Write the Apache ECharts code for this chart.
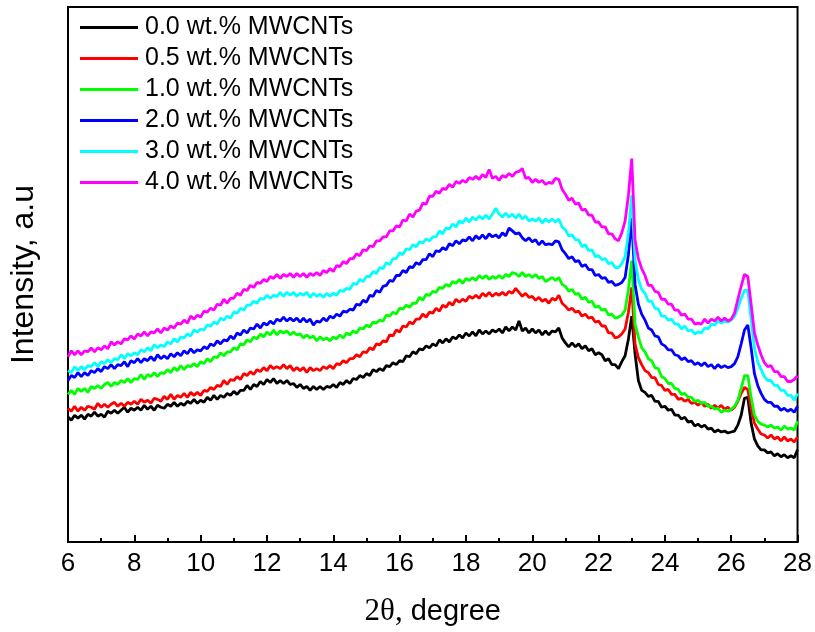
<!DOCTYPE html>
<html>
<head>
<meta charset="utf-8">
<title>XRD patterns of MWCNT composites</title>
<script src="https://cdn.jsdelivr.net/npm/echarts/dist/echarts.min.js"></script>
<style>
  html, body { margin: 0; padding: 0; background: #fff; }
  #chart { width: 815px; height: 632px; }
</style>
</head>
<body>
<div id="chart"></div>
<script>
// Diffraction scans, 2θ from 6.0° to 28.0° in 0.1° steps (arbitrary intensity units)
const scanStart = 6.0;
const scanStep = 0.1;

const seriesNames = [
  '0.0 wt.% MWCNTs',
  '0.5 wt.% MWCNTs',
  '1.0 wt.% MWCNTs',
  '2.0 wt.% MWCNTs',
  '3.0 wt.% MWCNTs',
  '4.0 wt.% MWCNTs'
];

const seriesColors = ['#000000', '#ff0000', '#00ff00', '#0000ff', '#00ffff', '#ff00ff'];

const xTicks = [6, 8, 10, 12, 14, 16, 18, 20, 22, 24, 26, 28];

const mwcnt00 = [
  126,123,128,125,128,124,129,127,131,127,
  129,126,132,130,133,130,133,136,131,135,
  133,136,133,138,134,137,133,138,136,135,
  139,137,141,137,140,138,142,140,144,140,
  143,141,146,143,148,144,148,146,150,148,
  152,149,153,153,158,154,159,157,162,159,
  164,161,165,160,163,160,163,159,160,156,
  159,155,157,153,157,154,157,154,157,156,
  159,156,161,159,163,160,165,164,168,166,
  170,168,174,172,175,173,178,177,181,179,
  183,182,188,187,192,190,195,194,198,196,
  200,198,204,201,205,202,207,205,209,206,
  211,208,212,208,214,210,213,210,214,212,
  215,211,217,213,217,214,223,213,216,211,
  215,211,214,209,213,209,213,212,216,206,
  201,197,201,197,200,195,198,193,195,189,
  191,189,183,185,179,179,175,182,188,205,
  228,190,163,153,151,147,148,142,142,136,
  137,133,134,128,128,124,126,121,122,117,
  119,116,118,114,115,111,113,111,112,110,
  111,112,118,128,145,146,120,104,97,93,
  93,90,91,87,89,86,88,85,87,85,
  93
];

const mwcnt05 = [
  135,132,137,132,136,133,137,136,134,140,
  136,139,136,139,141,137,140,137,141,139,
  142,139,144,141,143,140,145,144,142,147,
  144,149,144,148,146,150,146,151,148,151,
  148,153,152,156,154,158,157,163,159,164,
  163,167,164,170,168,172,169,174,172,176,
  173,178,175,177,175,179,175,178,173,176,
  173,176,171,176,173,175,173,177,175,178,
  175,180,179,183,181,185,185,189,187,192,
  191,196,194,200,199,203,202,209,208,214,
  212,218,217,222,220,225,225,230,227,232,
  231,236,233,239,237,242,239,245,242,245,
  243,248,246,249,246,251,248,252,248,251,
  249,252,249,253,251,256,252,248,251,247,
  248,244,247,243,245,241,246,244,249,241,
  238,234,236,232,233,228,230,226,227,222,
  223,218,218,211,211,206,207,210,215,232,
  257,200,186,179,173,171,166,166,159,158,
  153,154,149,149,144,145,142,144,140,141,
  138,141,137,139,135,138,135,138,134,136,
  133,136,142,150,156,154,135,120,114,109,
  108,105,108,104,106,102,106,102,104,101,
  106
];

const mwcnt10 = [
  149,153,149,155,152,155,151,157,155,158,
  155,159,161,157,161,159,163,161,165,161,
  165,164,169,164,169,167,171,167,171,170,
  174,171,176,173,178,174,178,177,180,177,
  182,180,185,182,187,186,191,188,192,192,
  196,194,200,199,204,202,207,205,210,207,
  212,209,214,209,213,211,213,209,212,209,
  210,206,209,206,208,203,207,204,206,203,
  207,205,209,206,211,209,213,211,216,215,
  219,217,222,221,224,223,229,228,232,230,
  236,235,239,237,241,241,247,244,250,249,
  253,252,257,256,260,258,263,261,265,261,
  266,264,267,264,269,266,269,265,268,266,
  269,266,270,268,272,271,268,272,268,270,
  267,270,266,268,263,265,267,264,267,260,
  258,253,255,250,251,245,247,242,243,237,
  238,234,235,229,230,226,227,229,234,255,
  284,220,207,196,192,185,183,176,175,167,
  165,160,160,155,154,149,150,146,146,142,
  143,140,141,137,137,134,135,131,133,132,
  134,137,143,155,168,168,146,128,122,119,
  118,116,118,115,116,113,117,114,115,113,
  122
];

const mwcnt20 = [
  163,168,166,171,167,171,168,173,171,175,
  172,177,175,179,175,179,178,182,177,183,
  181,185,181,185,183,187,183,189,185,188,
  185,190,187,191,188,193,190,195,191,194,
  193,197,195,200,198,203,200,204,203,208,
  205,211,209,214,211,216,215,220,216,221,
  219,223,220,225,223,227,223,226,223,226,
  222,226,222,225,219,223,222,226,223,228,
  226,230,228,233,232,235,234,240,239,244,
  242,249,248,254,252,258,259,264,263,269,
  269,274,272,278,277,282,280,285,285,291,
  288,294,293,297,295,301,299,304,301,305,
  304,308,304,309,306,310,306,311,308,310,
  307,312,309,317,314,311,312,307,304,307,
  303,305,300,304,300,301,300,304,303,295,
  291,286,288,283,284,278,280,275,275,269,
  270,266,267,262,263,259,260,262,267,290,
  327,260,240,230,224,216,214,208,207,200,
  198,194,194,189,188,184,186,182,183,179,
  181,178,181,177,179,175,179,176,178,176,
  177,180,187,200,214,219,196,170,158,150,
  144,141,141,137,137,133,135,132,134,131,
  137
];

const mwcnt30 = [
  173,171,177,173,177,174,178,177,181,177,
  182,180,184,181,185,184,189,185,190,188,
  191,189,194,192,196,193,199,196,199,197,
  202,200,205,202,207,206,210,208,214,212,
  215,214,219,218,222,220,226,224,228,226,
  232,231,236,234,239,239,243,241,246,245,
  249,246,249,248,252,248,252,249,252,248,
  251,249,252,247,251,248,250,247,251,248,
  251,249,254,253,256,255,261,260,265,263,
  268,268,273,271,277,276,282,280,286,286,
  292,290,296,295,300,298,303,302,306,304,
  308,308,314,311,317,316,321,318,324,322,
  327,323,328,325,329,326,330,326,331,337,
  331,328,332,328,331,327,331,326,329,324,
  326,324,327,322,326,323,326,323,326,318,
  315,309,310,305,305,298,300,294,295,288,
  289,285,286,281,282,277,277,281,288,312,
  350,285,265,255,251,243,243,236,235,228,
  228,224,225,220,220,215,218,213,214,210,
  212,211,216,215,220,219,223,221,223,222,
  224,228,236,246,254,254,225,196,182,174,
  167,163,163,158,158,153,153,148,148,143,
  150
];

const mwcnt40 = [
  187,193,189,193,189,193,192,196,192,196,
  194,198,195,202,199,202,200,205,204,208,
  205,210,208,212,208,212,211,215,211,216,
  214,218,216,221,220,224,221,228,225,229,
  227,233,232,236,234,240,239,245,241,246,
  246,251,249,255,254,259,257,262,261,265,
  263,268,266,270,266,270,268,271,267,271,
  268,271,267,271,269,272,269,274,272,276,
  273,279,278,283,281,286,286,291,289,295,
  294,299,298,304,304,308,308,314,314,319,
  318,325,324,331,328,334,335,342,341,349,
  349,354,352,357,356,361,358,364,362,365,
  363,368,366,369,366,371,368,376,367,369,
  365,370,368,372,369,373,374,377,367,368,
  363,366,363,365,361,363,362,367,366,356,
  351,345,347,341,342,335,336,330,330,323,
  323,318,318,311,311,306,304,312,324,350,
  387,305,286,276,269,259,259,253,252,245,
  245,240,240,234,234,229,230,225,225,220,
  221,220,225,221,225,223,227,223,226,223,
  225,231,245,258,270,268,240,211,199,189,
  181,177,178,172,172,167,167,162,162,164,
  168
];

const scans = [mwcnt00, mwcnt05, mwcnt10, mwcnt20, mwcnt30, mwcnt40];

// pair each intensity with its 2θ position on the scan grid
function toPoints(values) {
  return values.map((v, i) => [(scanStart * 10 + i * scanStep * 10) / 10, v]);
}

const sansFont = '"Liberation Sans", Arial, sans-serif';
const serifFont = '"Liberation Serif", "Times New Roman", serif';

const chart = echarts.init(document.getElementById('chart'), null, { renderer: 'canvas' });

const option = {
  animation: false,
  backgroundColor: '#ffffff',
  grid: {
    left: 67, right: 16, top: 7, bottom: 85,
    show: true, borderColor: '#000', borderWidth: 2, backgroundColor: 'transparent'
  },
  legend: {
    orient: 'vertical',
    left: 80, top: 15,
    padding: 0,
    itemGap: 6,
    itemWidth: 58,
    itemHeight: 3,
    icon: 'rect',
    data: seriesNames,
    textStyle: { fontFamily: sansFont, fontSize: 25, color: '#000', padding: [0, 0, 0, 2] }
  },
  xAxis: {
    type: 'value',
    min: xTicks[0], max: xTicks[xTicks.length - 1], interval: 2,
    name: '{s|2θ,} degree',
    nameLocation: 'middle',
    nameGap: 54,
    nameTextStyle: {
      fontFamily: sansFont, fontSize: 29, color: '#000',
      rich: { s: { fontFamily: serifFont, fontSize: 31, color: '#000' } }
    },
    axisLine: { show: true, onZero: false, lineStyle: { color: '#000', width: 2 } },
    axisTick: { show: true, inside: true, length: 7, lineStyle: { color: '#000', width: 2 } },
    minorTick: { show: true, splitNumber: 2, length: 4, lineStyle: { color: '#000', width: 2 } },
    axisLabel: { fontFamily: sansFont, fontSize: 26, color: '#000', margin: 9 },
    splitLine: { show: false }
  },
  yAxis: {
    type: 'value',
    min: 0, max: 540,
    name: 'Intensity, a.u',
    nameLocation: 'middle',
    nameGap: 28,
    nameTextStyle: { fontFamily: sansFont, fontSize: 32, color: '#000' },
    axisLine: { show: true, onZero: false, lineStyle: { color: '#000', width: 2 } },
    axisTick: { show: false },
    axisLabel: { show: false },
    splitLine: { show: false }
  },
  series: scans.map((values, k) => ({
    name: seriesNames[k],
    type: 'line',
    data: toPoints(values),
    showSymbol: false,
    symbol: 'none',
    color: seriesColors[k],
    lineStyle: { color: seriesColors[k], width: 2.8 },
    z: 2 + k
  }))
};

chart.setOption(option);
</script>
</body>
</html>
